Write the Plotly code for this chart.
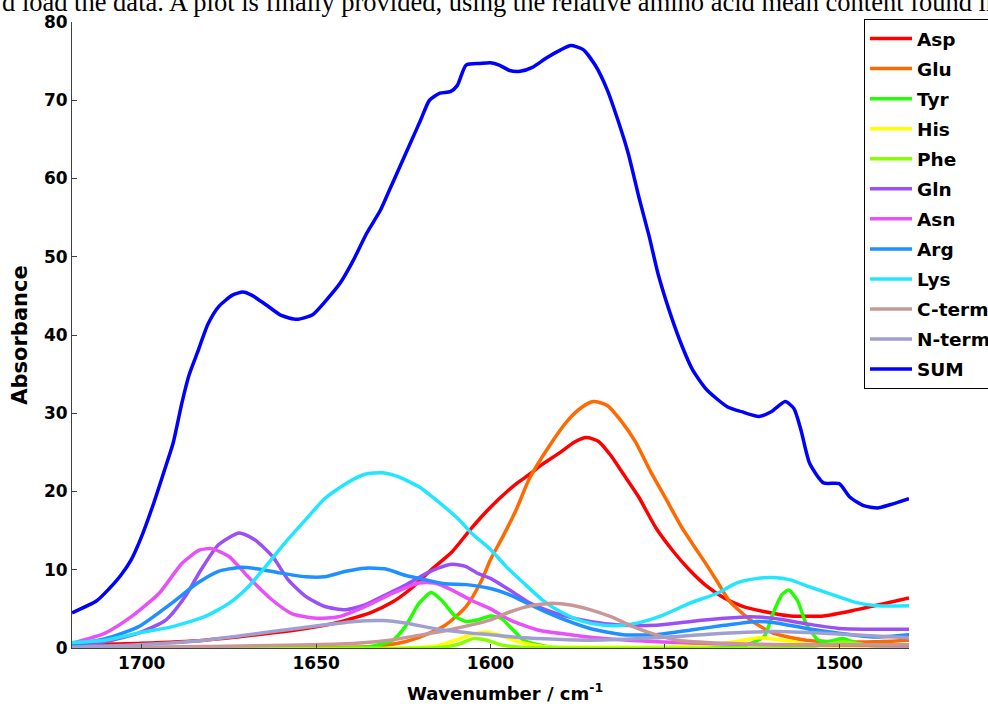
import plotly.graph_objects as go

# Wavenumber (cm^-1) and absorbance samples for each amino-acid side-chain band
asp_wn = [1720, 1700, 1682, 1667, 1653, 1643.5, 1634, 1628, 1622.5, 1617, 1611, 1605.5, 1600, 1595, 1592, 1588.5, 1586, 1580, 1576, 1572.5, 1569, 1565.5, 1562, 1557.5, 1552.5, 1547.5, 1543, 1538, 1533, 1527.5, 1522, 1514, 1504.5, 1495, 1480]
asp_a = [0.4, 0.6, 1.0, 1.7, 2.5, 3.3, 4.6, 5.9, 7.7, 10.0, 12.3, 15.3, 18.0, 20.1, 21.2, 22.3, 23.2, 25.0, 26.3, 26.9, 26.4, 24.6, 22.3, 19.3, 15.3, 12.3, 10.0, 7.9, 6.4, 5.3, 4.7, 4.1, 4.1, 4.9, 6.4]

glu_wn = [1720, 1660, 1634, 1624.5, 1618.5, 1613, 1607, 1602.5, 1600, 1596.5, 1592.5, 1589, 1583, 1578, 1574, 1570.5, 1566.5, 1562.5, 1558.5, 1554.5, 1549.5, 1545, 1541, 1538, 1535, 1531.5, 1525.5, 1519, 1509.5, 1500, 1490, 1480]
glu_a = [0.0, 0.05, 0.2, 0.8, 1.7, 2.9, 5.3, 8.7, 11.3, 14.2, 17.8, 21.5, 25.9, 29.0, 30.7, 31.5, 31.0, 29.0, 26.4, 22.9, 18.9, 15.3, 12.6, 10.6, 8.5, 6.0, 3.6, 1.9, 1.0, 0.8, 0.8, 1.0]

tyr_wn = [1720, 1640, 1634, 1628, 1624.5, 1620.5, 1617, 1614, 1610, 1607, 1603.5, 1600, 1597, 1593.5, 1590.5, 1586, 1582, 1530, 1526.5, 1521.5, 1519, 1516.5, 1514.5, 1512, 1509.5, 1506, 1503.5, 1499, 1495, 1490, 1480]
tyr_a = [0.0, 0.0, 0.2, 1.0, 2.7, 5.7, 7.1, 6.1, 4.0, 3.4, 3.6, 4.1, 3.8, 2.3, 1.0, 0.4, 0.1, 0.1, 0.4, 1.5, 4.4, 6.8, 7.4, 6.1, 3.1, 1.0, 0.8, 1.2, 0.6, 0.2, 0.1]

his_wn = [1720, 1625, 1615, 1610, 1605, 1601, 1597, 1592, 1585, 1560, 1540, 1530, 1523, 1516, 1508, 1500, 1480]
his_a = [0.0, 0.0, 0.3, 1.0, 1.8, 2.0, 1.6, 0.8, 0.2, 0.1, 0.3, 0.8, 1.3, 1.0, 0.4, 0.1, 0.0]

phe_wn = [1720, 1615, 1609, 1605, 1601, 1597, 1591, 1510, 1504, 1499, 1494, 1488, 1480]
phe_a = [0.05, 0.05, 0.5, 1.2, 1.0, 0.4, 0.1, 0.1, 0.4, 0.8, 0.5, 0.15, 0.05]

gln_wn = [1720, 1710.5, 1701, 1693, 1687.5, 1683, 1678, 1672, 1667.5, 1662.5, 1658, 1653, 1647.5, 1641.5, 1636, 1630, 1624.5, 1618.5, 1615, 1611, 1607, 1603.5, 1600, 1594.5, 1588.5, 1581, 1571.5, 1562, 1552.5, 1542.5, 1533, 1525.5, 1519, 1509.5, 1500, 1490, 1480]
gln_a = [0.4, 0.8, 1.9, 3.6, 6.6, 10.0, 13.2, 14.7, 13.8, 11.7, 8.7, 6.6, 5.3, 4.9, 5.5, 6.8, 8.0, 9.5, 10.2, 10.7, 10.4, 9.5, 8.9, 7.4, 5.7, 4.4, 3.4, 2.9, 2.9, 3.4, 3.8, 4.0, 3.8, 3.1, 2.5, 2.4, 2.4]

asn_wn = [1720, 1710.5, 1703, 1695, 1688.5, 1683.5, 1680, 1675, 1669.5, 1662.5, 1657, 1650, 1643.5, 1636, 1628, 1620.5, 1616, 1611, 1605.5, 1600, 1594.5, 1586.5, 1577, 1567.5, 1552.5, 1533, 1514, 1480]
asn_a = [0.6, 1.9, 4.0, 7.0, 10.8, 12.5, 12.7, 11.7, 9.1, 6.1, 4.4, 3.8, 4.0, 5.3, 7.0, 8.3, 8.3, 7.4, 6.1, 5.0, 3.6, 2.3, 1.7, 1.2, 0.8, 0.5, 0.4, 0.3]

arg_wn = [1720, 1710.5, 1701, 1691.5, 1684, 1678, 1672, 1666.5, 1660.5, 1653, 1647.5, 1641.5, 1636, 1630, 1624.5, 1618.5, 1613, 1607, 1600, 1594.5, 1588.5, 1581, 1571.5, 1562, 1552.5, 1542.5, 1533, 1523.5, 1518, 1509.5, 1500, 1490, 1480]
arg_a = [0.4, 1.2, 2.7, 5.7, 8.3, 9.8, 10.3, 10.1, 9.6, 9.1, 9.1, 9.8, 10.2, 10.1, 9.3, 8.7, 8.2, 8.1, 7.6, 6.8, 5.5, 4.0, 2.5, 1.7, 1.7, 2.3, 2.9, 3.4, 3.2, 2.5, 1.9, 1.4, 1.7]

lys_wn = [1720, 1710.5, 1701, 1691.5, 1682, 1675, 1669.5, 1664.5, 1659, 1653, 1647.5, 1641.5, 1636, 1631, 1626.5, 1620.5, 1615, 1609, 1605.5, 1600, 1595.5, 1590.5, 1585, 1579, 1573.5, 1567.5, 1562, 1556, 1550.5, 1543, 1535, 1529.5, 1523.5, 1519, 1514, 1508.5, 1500.5, 1495, 1489, 1480]
lys_a = [0.7, 1.0, 1.9, 2.7, 4.0, 5.7, 7.8, 10.4, 13.4, 16.4, 19.1, 21.0, 22.2, 22.4, 21.9, 20.6, 18.7, 16.4, 14.7, 12.6, 10.4, 8.3, 6.1, 4.4, 3.4, 2.9, 2.9, 3.4, 4.2, 5.7, 7.0, 8.3, 8.9, 9.0, 8.7, 7.8, 6.6, 5.8, 5.4, 5.4]

cterm_wn = [1720, 1682, 1643.5, 1629, 1619.5, 1610, 1600, 1594.5, 1588.5, 1583, 1577, 1571.5, 1565.5, 1560, 1554, 1546.5, 1533, 1514, 1480]
cterm_a = [0.0, 0.2, 0.5, 1.0, 1.7, 2.5, 3.6, 4.6, 5.4, 5.7, 5.5, 4.9, 4.0, 2.9, 1.9, 1.0, 0.6, 0.4, 0.4]

nterm_wn = [1720, 1701, 1682, 1662.5, 1648.5, 1639, 1631, 1624.5, 1615, 1605.5, 1600, 1590.5, 1571.5, 1552.5, 1533, 1519, 1504.5, 1480]
nterm_a = [0.1, 0.4, 1.0, 2.1, 2.9, 3.4, 3.5, 3.2, 2.4, 1.9, 1.7, 1.3, 1.0, 1.3, 1.9, 2.1, 1.9, 1.3]

sum_wn = [1720, 1713, 1709.5, 1706, 1703, 1700, 1696.5, 1693.5, 1691, 1688.5, 1686.5, 1684, 1681, 1678, 1674, 1671, 1668.5, 1664.5, 1660, 1655.5, 1651, 1647, 1643, 1639.5, 1635.5, 1631.5, 1629, 1626, 1623, 1620, 1617.5, 1614.5, 1611.5, 1609.5, 1607, 1603, 1600, 1597.5, 1594.5, 1591.5, 1588, 1584, 1580, 1577, 1573.5, 1570, 1566.5, 1563.5, 1560.5, 1557.5, 1554.5, 1552, 1548.5, 1545, 1542, 1538, 1532, 1528, 1523, 1519.5, 1515.5, 1513, 1511, 1508.5, 1504.5, 1500, 1497, 1493, 1489, 1485.5, 1480]
sum_a = [4.5, 6.0, 7.5, 9.3, 11.3, 14.3, 18.6, 22.7, 26.2, 31.3, 34.8, 37.8, 41.4, 43.6, 45.1, 45.5, 45.1, 43.9, 42.5, 42.0, 42.6, 44.5, 46.7, 49.4, 53.0, 56.0, 58.5, 61.5, 64.5, 67.5, 70.0, 70.9, 71.1, 71.9, 74.5, 74.7, 74.8, 74.5, 73.8, 73.7, 74.2, 75.4, 76.4, 77.0, 76.5, 74.5, 71.3, 67.5, 63.2, 57.7, 52.6, 47.9, 42.8, 38.5, 35.5, 33.0, 30.8, 30.2, 29.6, 30.2, 31.5, 30.6, 27.9, 23.6, 21.1, 21.0, 19.3, 18.2, 17.9, 18.3, 19.1]

x_ticks = [1700, 1650, 1600, 1550, 1500]
y_ticks = [0, 10, 20, 30, 40, 50, 60, 70, 80]

series = [
    ("Asp", asp_wn, asp_a, "#FF0000"),
    ("Glu", glu_wn, glu_a, "#FF6A00"),
    ("Tyr", tyr_wn, tyr_a, "#22FF00"),
    ("His", his_wn, his_a, "#FFFF00"),
    ("Phe", phe_wn, phe_a, "#88FF00"),
    ("Gln", gln_wn, gln_a, "#9B50F5"),
    ("Asn", asn_wn, asn_a, "#E850F8"),
    ("Arg", arg_wn, arg_a, "#1E90FF"),
    ("Lys", lys_wn, lys_a, "#22E5FF"),
    ("C-term", cterm_wn, cterm_a, "#C89898"),
    ("N-term", nterm_wn, nterm_a, "#A0A0D0"),
    ("SUM", sum_wn, sum_a, "#0000FF"),
]

fig = go.Figure()
for name, wn, a, color in series:
    fig.add_trace(go.Scatter(
        x=wn, y=a, mode="lines", name=name, legendgroup=name,
        line=dict(color=color, width=3.5, shape="spline", smoothing=0.6),
    ))

W, H = 988, 706
ml, mr, mt, mb = 72, 79, 22, 58
pw, ph = W - ml - mr, H - mt - mb

SANS = "DejaVu Sans, Verdana, sans-serif"
tick_font = dict(family=SANS, size=17, color="black", weight="bold")

fig.update_layout(
    width=W, height=H,
    margin=dict(l=ml, r=mr, t=mt, b=mb, pad=0, autoexpand=False),
    paper_bgcolor="white", plot_bgcolor="white",
    showlegend=True,
    legend=dict(
        x=(864 - ml) / pw, y=1 + (mt - 19) / ph, xanchor="left", yanchor="top",
        bgcolor="white", bordercolor="black", borderwidth=1,
        font=dict(family=SANS, size=18.5, color="black", weight="bold"),
        tracegroupgap=3, itemwidth=42, maxheight=1.0,
    ),
    xaxis=dict(
        range=[1720, 1480], tickvals=x_ticks, ticktext=[str(v) for v in x_ticks],
        ticks="inside", ticklen=4, tickcolor="#404040", showgrid=False, zeroline=False,
        showline=True, linecolor="#404040", linewidth=1,
        tickfont=tick_font,
    ),
    yaxis=dict(
        range=[0, 80], tickvals=y_ticks, ticktext=[str(v) for v in y_ticks],
        ticks="inside", ticklen=5, tickcolor="#404040", showgrid=False, zeroline=False,
        showline=True, linecolor="#404040", linewidth=1,
        tickfont=tick_font,
        title=dict(text="Absorbance",
                   font=dict(family=SANS, size=21, color="black", weight="bold"), standoff=10),
    ),
)

# x-axis label, centred slightly right of the plot centre
fig.add_annotation(
    text="Wavenumber / cm<sup>-1</sup>",
    xref="paper", yref="paper", x=(505 - ml) / pw, y=-(692 - (mt + ph)) / ph,
    xanchor="center", yanchor="middle", showarrow=False,
    font=dict(family=SANS, size=18, color="black", weight="bold"),
)

# Running text from the surrounding page, clipped at the top edge
fig.add_annotation(
    text="d load the data. A plot is finally provided, using the relative amino acid mean content found in",
    xref="paper", yref="paper", x=(0 - ml) / pw, y=1 + (mt - 2.2) / ph,
    xanchor="left", yanchor="middle", showarrow=False,
    font=dict(family="Liberation Serif, Times New Roman, serif", size=26.5, color="black"),
)

fig.write_html("out.html")
